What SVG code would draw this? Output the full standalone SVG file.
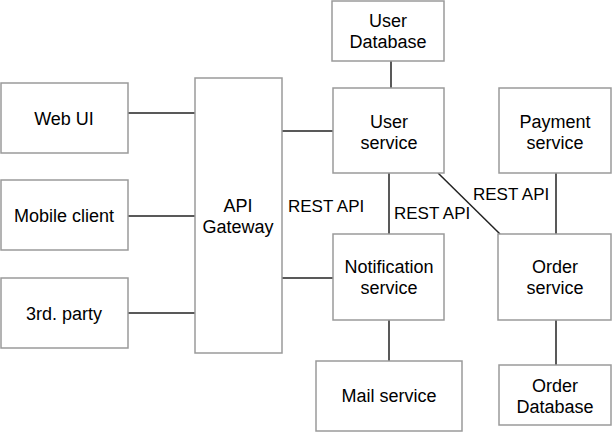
<svg xmlns="http://www.w3.org/2000/svg" width="613" height="432" viewBox="0 0 613 432">
<style>
.n rect{fill:#fff;stroke:#9a9a9a;stroke-width:1.5}
text{font-family:"Liberation Sans",Arial,sans-serif;font-size:18px;fill:#000;text-anchor:middle}
.c line{stroke:#222;stroke-width:1.5}
.l{text-anchor:start;font-size:17px}
</style>
<rect width="613" height="432" fill="#fff"/>
<g class="c" id="connectors">
<line x1="128" y1="113" x2="195" y2="113"/>
<line x1="128" y1="216" x2="195" y2="216"/>
<line x1="128" y1="313" x2="195" y2="313"/>
<line x1="282" y1="131" x2="334" y2="131"/>
<line x1="282" y1="278" x2="334" y2="278"/>
<line x1="391" y1="61" x2="391" y2="88"/>
<line x1="389" y1="173" x2="389" y2="234"/>
<line x1="438" y1="173" x2="500" y2="234"/>
<line x1="556" y1="173" x2="556" y2="234"/>
<line x1="389" y1="320" x2="389" y2="361"/>
<line x1="556" y1="320" x2="556" y2="365"/>
<text class="l" x="288" y="212">REST API</text>
<text class="l" x="394" y="219">REST API</text>
<text class="l" x="473" y="200">REST API</text>
</g>
<g class="n" id="webui"><rect x="1" y="83" width="127" height="70"/><text x="64" y="125">Web UI</text></g>
<g class="n" id="mobile"><rect x="1" y="180" width="127" height="70"/><text x="64" y="222">Mobile client</text></g>
<g class="n" id="third"><rect x="1" y="278" width="127" height="70"/><text x="64" y="320">3rd. party</text></g>
<g class="n" id="gateway"><rect x="195" y="78" width="87" height="275"/><text x="238" y="212">API</text><text x="238" y="233">Gateway</text></g>
<g class="n" id="userdb"><rect x="332" y="1" width="112" height="60"/><text x="388" y="27">User</text><text x="388" y="48">Database</text></g>
<g class="n" id="usersvc"><rect x="333" y="88" width="111" height="85"/><text x="389" y="128">User</text><text x="389" y="149">service</text></g>
<g class="n" id="payment"><rect x="499" y="88" width="112" height="85"/><text x="555" y="128">Payment</text><text x="555" y="149">service</text></g>
<g class="n" id="notif"><rect x="333" y="234" width="111" height="86"/><text x="389" y="273">Notification</text><text x="389" y="294">service</text></g>
<g class="n" id="order"><rect x="498" y="234" width="113" height="86"/><text x="555" y="273">Order</text><text x="555" y="294">service</text></g>
<g class="n" id="mail"><rect x="316" y="361" width="146" height="70"/><text x="389" y="402">Mail service</text></g>
<g class="n" id="orderdb"><rect x="499" y="365" width="112" height="60"/><text x="555" y="392">Order</text><text x="555" y="413">Database</text></g>
</svg>
